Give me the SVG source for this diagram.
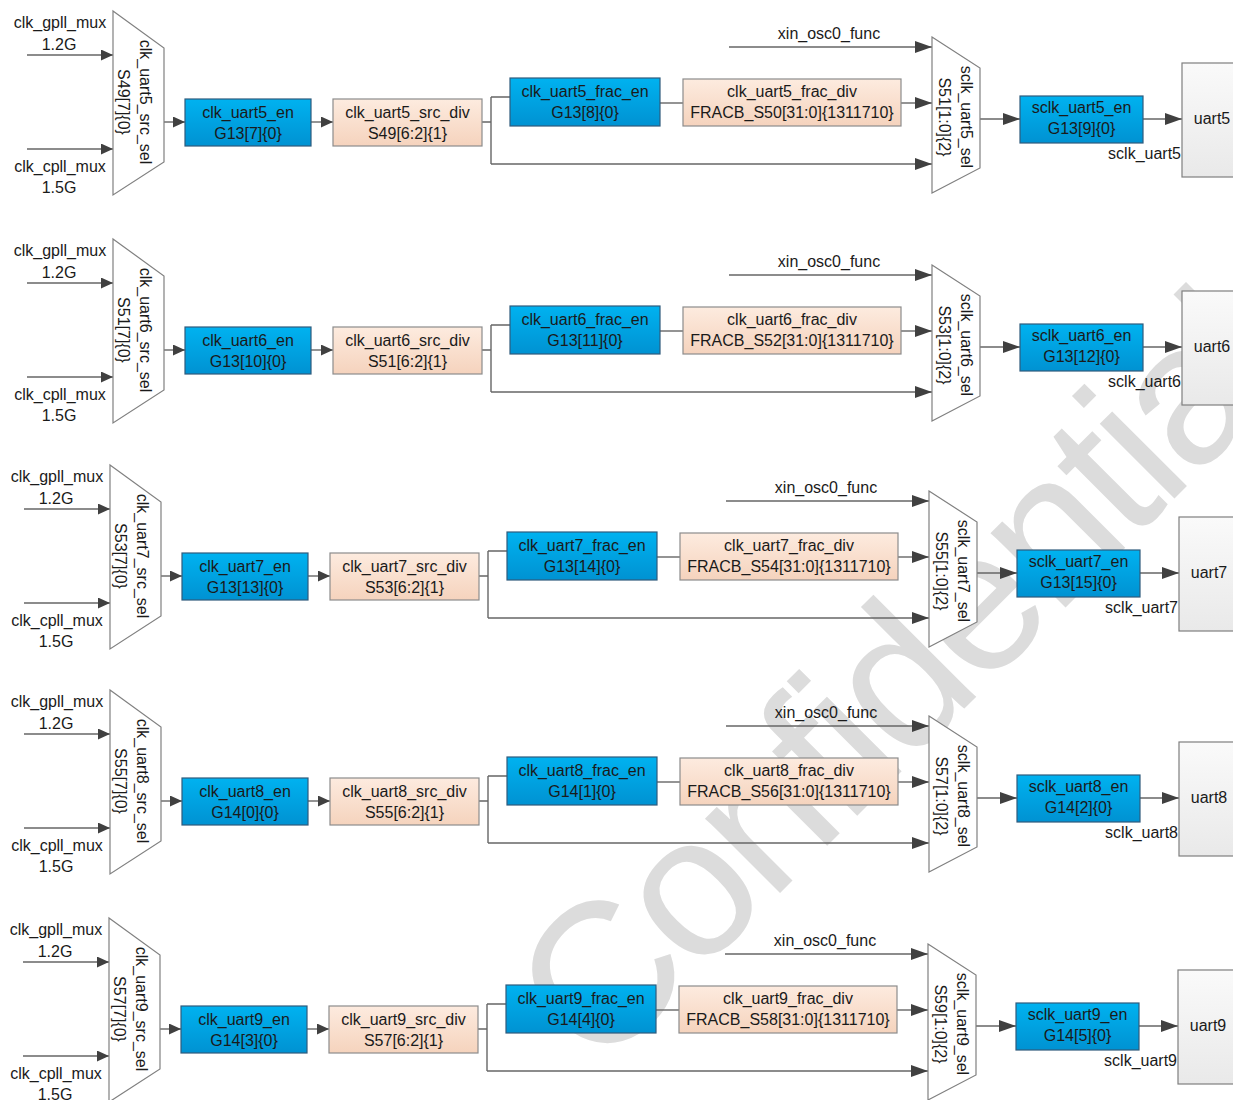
<svg xmlns="http://www.w3.org/2000/svg" width="1233" height="1100" viewBox="0 0 1233 1100">
<style>
.t{font-family:"Liberation Sans",Arial,sans-serif;font-size:16px;fill:#1a1a1a;text-anchor:middle}
.te{text-anchor:end}
.ln{stroke:#666;stroke-width:1.4;fill:none}
.a1{marker-end:url(#ah1)}
.a2{marker-end:url(#ah2)}
.mux{fill:#fff;stroke:#808080;stroke-width:1.2}
.blue{fill:url(#gb);stroke:#2f5b7c;stroke-width:1.2}
.peach{fill:url(#gp);stroke:#8c8c8c;stroke-width:1.2}
.dev{fill:url(#gd);stroke:#7f7f7f;stroke-width:1.2}
.wm{font-family:"Liberation Sans",Arial,sans-serif;font-size:200px;fill:#dcdcdc}
</style>
<defs>
<linearGradient id="gb" x1="0" y1="0" x2="0" y2="1"><stop offset="0" stop-color="#00b2f0"/><stop offset="1" stop-color="#0092d2"/></linearGradient>
<linearGradient id="gp" x1="0" y1="0" x2="0" y2="1"><stop offset="0" stop-color="#fdebdf"/><stop offset="1" stop-color="#f5d3bd"/></linearGradient>
<linearGradient id="gd" x1="0" y1="0" x2="0" y2="1"><stop offset="0" stop-color="#fafafa"/><stop offset="1" stop-color="#e9e9e9"/></linearGradient>
<marker id="ah1" markerUnits="userSpaceOnUse" markerWidth="13" markerHeight="11" refX="12" refY="5.5" orient="auto"><path d="M0,0 L12,5.5 L0,11 z" fill="#404040"/></marker>
<marker id="ah2" markerUnits="userSpaceOnUse" markerWidth="18" markerHeight="12" refX="17" refY="6" orient="auto"><path d="M0,0 L17,6 L0,12 z" fill="#404040"/></marker>
</defs>
<rect width="1233" height="1100" fill="#fff"/>
<text class="wm" transform="translate(598,1075) rotate(-45)" textLength="990" lengthAdjust="spacing">Confidential</text>

<!-- ROW uart5 -->
<g id="row-uart5">
<g id="conn-uart5">
<path class="ln a1" d="M27,55H113"/><path class="ln a1" d="M27,149H113"/>
<path class="ln a1" d="M164,122H185"/><path class="ln a1" d="M311,122H333"/>
<path class="ln" d="M482,122H491M491,97V164M491,97H510"/>
<path class="ln" d="M660,103H683"/>
<path class="ln a2" d="M901,103H932"/><path class="ln a2" d="M491,164H932"/><path class="ln a2" d="M729,47H932"/>
<path class="ln a2" d="M980,119H1020"/><path class="ln a2" d="M1143,119H1182"/>
<text class="t" x="60" y="27.5">clk_gpll_mux</text><text class="t" x="59" y="49.5">1.2G</text>
<text class="t" x="60" y="171.5">clk_cpll_mux</text><text class="t" x="59" y="192.5">1.5G</text>
<text class="t" x="829" y="38.5">xin_osc0_func</text>
<text class="t te" x="1181" y="158.5">sclk_uart5</text>
</g>
<g id="clk_uart5_src_sel"><polygon class="mux" points="113,11 164,48 164,162 113,195"/><text class="t" transform="translate(145,102) rotate(90)" y="5.5">clk_uart5_src_sel</text><text class="t" transform="translate(123,102) rotate(90)" y="5.5">S49[7]{0}</text></g>
<g id="clk_uart5_en"><rect class="blue" x="185" y="99" width="126" height="47"/><text class="t" x="248" y="117.5">clk_uart5_en</text><text class="t" x="248" y="138.5">G13[7]{0}</text></g>
<g id="clk_uart5_src_div"><rect class="peach" x="333" y="99" width="149" height="47"/><text class="t" x="407.5" y="117.5">clk_uart5_src_div</text><text class="t" x="407.5" y="138.5">S49[6:2]{1}</text></g>
<g id="clk_uart5_frac_en"><rect class="blue" x="510" y="78" width="150" height="48"/><text class="t" x="585" y="97">clk_uart5_frac_en</text><text class="t" x="585" y="118">G13[8]{0}</text></g>
<g id="clk_uart5_frac_div"><rect class="peach" x="683" y="79" width="218" height="47"/><text class="t" x="792" y="97">clk_uart5_frac_div</text><text class="t" x="792" y="118">FRACB_S50[31:0]{1311710}</text></g>
<g id="sclk_uart5_sel"><polygon class="mux" points="932,37 980,68 980,168 932,193"/><text class="t" transform="translate(966,117) rotate(90)" y="5.5">sclk_uart5_sel</text><text class="t" transform="translate(944,117) rotate(90)" y="5.5">S51[1:0]{2}</text></g>
<g id="sclk_uart5_en"><rect class="blue" x="1020" y="96" width="123" height="47"/><text class="t" x="1081.5" y="112.5">sclk_uart5_en</text><text class="t" x="1081.5" y="133.5">G13[9]{0}</text></g>
<g id="uart5"><rect class="dev" x="1182" y="63" width="70" height="114"/><text class="t" x="1212" y="124">uart5</text></g>
</g>

<!-- ROW uart6 -->
<g id="row-uart6" transform="translate(0,228)">
<g id="conn-uart6">
<path class="ln a1" d="M27,55H113"/><path class="ln a1" d="M27,149H113"/>
<path class="ln a1" d="M164,122H185"/><path class="ln a1" d="M311,122H333"/>
<path class="ln" d="M482,122H491M491,97V164M491,97H510"/>
<path class="ln" d="M660,103H683"/>
<path class="ln a2" d="M901,103H932"/><path class="ln a2" d="M491,164H932"/><path class="ln a2" d="M729,47H932"/>
<path class="ln a2" d="M980,119H1020"/><path class="ln a2" d="M1143,119H1182"/>
<text class="t" x="60" y="27.5">clk_gpll_mux</text><text class="t" x="59" y="49.5">1.2G</text>
<text class="t" x="60" y="171.5">clk_cpll_mux</text><text class="t" x="59" y="192.5">1.5G</text>
<text class="t" x="829" y="38.5">xin_osc0_func</text>
<text class="t te" x="1181" y="158.5">sclk_uart6</text>
</g>
<g id="clk_uart6_src_sel"><polygon class="mux" points="113,11 164,48 164,162 113,195"/><text class="t" transform="translate(145,102) rotate(90)" y="5.5">clk_uart6_src_sel</text><text class="t" transform="translate(123,102) rotate(90)" y="5.5">S51[7]{0}</text></g>
<g id="clk_uart6_en"><rect class="blue" x="185" y="99" width="126" height="47"/><text class="t" x="248" y="117.5">clk_uart6_en</text><text class="t" x="248" y="138.5">G13[10]{0}</text></g>
<g id="clk_uart6_src_div"><rect class="peach" x="333" y="99" width="149" height="47"/><text class="t" x="407.5" y="117.5">clk_uart6_src_div</text><text class="t" x="407.5" y="138.5">S51[6:2]{1}</text></g>
<g id="clk_uart6_frac_en"><rect class="blue" x="510" y="78" width="150" height="48"/><text class="t" x="585" y="97">clk_uart6_frac_en</text><text class="t" x="585" y="118">G13[11]{0}</text></g>
<g id="clk_uart6_frac_div"><rect class="peach" x="683" y="79" width="218" height="47"/><text class="t" x="792" y="97">clk_uart6_frac_div</text><text class="t" x="792" y="118">FRACB_S52[31:0]{1311710}</text></g>
<g id="sclk_uart6_sel"><polygon class="mux" points="932,37 980,68 980,168 932,193"/><text class="t" transform="translate(966,117) rotate(90)" y="5.5">sclk_uart6_sel</text><text class="t" transform="translate(944,117) rotate(90)" y="5.5">S53[1:0]{2}</text></g>
<g id="sclk_uart6_en"><rect class="blue" x="1020" y="96" width="123" height="47"/><text class="t" x="1081.5" y="112.5">sclk_uart6_en</text><text class="t" x="1081.5" y="133.5">G13[12]{0}</text></g>
<g id="uart6"><rect class="dev" x="1182" y="63" width="70" height="114"/><text class="t" x="1212" y="124">uart6</text></g>
</g>

<!-- ROW uart7 -->
<g id="row-uart7" transform="translate(-3,454)">
<g id="conn-uart7">
<path class="ln a1" d="M27,55H113"/><path class="ln a1" d="M27,149H113"/>
<path class="ln a1" d="M164,122H185"/><path class="ln a1" d="M311,122H333"/>
<path class="ln" d="M482,122H491M491,97V164M491,97H510"/>
<path class="ln" d="M660,103H683"/>
<path class="ln a2" d="M901,103H932"/><path class="ln a2" d="M491,164H932"/><path class="ln a2" d="M729,47H932"/>
<path class="ln a2" d="M980,119H1020"/><path class="ln a2" d="M1143,119H1182"/>
<text class="t" x="60" y="27.5">clk_gpll_mux</text><text class="t" x="59" y="49.5">1.2G</text>
<text class="t" x="60" y="171.5">clk_cpll_mux</text><text class="t" x="59" y="192.5">1.5G</text>
<text class="t" x="829" y="38.5">xin_osc0_func</text>
<text class="t te" x="1181" y="158.5">sclk_uart7</text>
</g>
<g id="clk_uart7_src_sel"><polygon class="mux" points="113,11 164,48 164,162 113,195"/><text class="t" transform="translate(145,102) rotate(90)" y="5.5">clk_uart7_src_sel</text><text class="t" transform="translate(123,102) rotate(90)" y="5.5">S53[7]{0}</text></g>
<g id="clk_uart7_en"><rect class="blue" x="185" y="99" width="126" height="47"/><text class="t" x="248" y="117.5">clk_uart7_en</text><text class="t" x="248" y="138.5">G13[13]{0}</text></g>
<g id="clk_uart7_src_div"><rect class="peach" x="333" y="99" width="149" height="47"/><text class="t" x="407.5" y="117.5">clk_uart7_src_div</text><text class="t" x="407.5" y="138.5">S53[6:2]{1}</text></g>
<g id="clk_uart7_frac_en"><rect class="blue" x="510" y="78" width="150" height="48"/><text class="t" x="585" y="97">clk_uart7_frac_en</text><text class="t" x="585" y="118">G13[14]{0}</text></g>
<g id="clk_uart7_frac_div"><rect class="peach" x="683" y="79" width="218" height="47"/><text class="t" x="792" y="97">clk_uart7_frac_div</text><text class="t" x="792" y="118">FRACB_S54[31:0]{1311710}</text></g>
<g id="sclk_uart7_sel"><polygon class="mux" points="932,37 980,68 980,168 932,193"/><text class="t" transform="translate(966,117) rotate(90)" y="5.5">sclk_uart7_sel</text><text class="t" transform="translate(944,117) rotate(90)" y="5.5">S55[1:0]{2}</text></g>
<g id="sclk_uart7_en"><rect class="blue" x="1020" y="96" width="123" height="47"/><text class="t" x="1081.5" y="112.5">sclk_uart7_en</text><text class="t" x="1081.5" y="133.5">G13[15]{0}</text></g>
<g id="uart7"><rect class="dev" x="1182" y="63" width="70" height="114"/><text class="t" x="1212" y="124">uart7</text></g>
</g>

<!-- ROW uart8 -->
<g id="row-uart8" transform="translate(-3,679)">
<g id="conn-uart8">
<path class="ln a1" d="M27,55H113"/><path class="ln a1" d="M27,149H113"/>
<path class="ln a1" d="M164,122H185"/><path class="ln a1" d="M311,122H333"/>
<path class="ln" d="M482,122H491M491,97V164M491,97H510"/>
<path class="ln" d="M660,103H683"/>
<path class="ln a2" d="M901,103H932"/><path class="ln a2" d="M491,164H932"/><path class="ln a2" d="M729,47H932"/>
<path class="ln a2" d="M980,119H1020"/><path class="ln a2" d="M1143,119H1182"/>
<text class="t" x="60" y="27.5">clk_gpll_mux</text><text class="t" x="59" y="49.5">1.2G</text>
<text class="t" x="60" y="171.5">clk_cpll_mux</text><text class="t" x="59" y="192.5">1.5G</text>
<text class="t" x="829" y="38.5">xin_osc0_func</text>
<text class="t te" x="1181" y="158.5">sclk_uart8</text>
</g>
<g id="clk_uart8_src_sel"><polygon class="mux" points="113,11 164,48 164,162 113,195"/><text class="t" transform="translate(145,102) rotate(90)" y="5.5">clk_uart8_src_sel</text><text class="t" transform="translate(123,102) rotate(90)" y="5.5">S55[7]{0}</text></g>
<g id="clk_uart8_en"><rect class="blue" x="185" y="99" width="126" height="47"/><text class="t" x="248" y="117.5">clk_uart8_en</text><text class="t" x="248" y="138.5">G14[0]{0}</text></g>
<g id="clk_uart8_src_div"><rect class="peach" x="333" y="99" width="149" height="47"/><text class="t" x="407.5" y="117.5">clk_uart8_src_div</text><text class="t" x="407.5" y="138.5">S55[6:2]{1}</text></g>
<g id="clk_uart8_frac_en"><rect class="blue" x="510" y="78" width="150" height="48"/><text class="t" x="585" y="97">clk_uart8_frac_en</text><text class="t" x="585" y="118">G14[1]{0}</text></g>
<g id="clk_uart8_frac_div"><rect class="peach" x="683" y="79" width="218" height="47"/><text class="t" x="792" y="97">clk_uart8_frac_div</text><text class="t" x="792" y="118">FRACB_S56[31:0]{1311710}</text></g>
<g id="sclk_uart8_sel"><polygon class="mux" points="932,37 980,68 980,168 932,193"/><text class="t" transform="translate(966,117) rotate(90)" y="5.5">sclk_uart8_sel</text><text class="t" transform="translate(944,117) rotate(90)" y="5.5">S57[1:0]{2}</text></g>
<g id="sclk_uart8_en"><rect class="blue" x="1020" y="96" width="123" height="47"/><text class="t" x="1081.5" y="112.5">sclk_uart8_en</text><text class="t" x="1081.5" y="133.5">G14[2]{0}</text></g>
<g id="uart8"><rect class="dev" x="1182" y="63" width="70" height="114"/><text class="t" x="1212" y="124">uart8</text></g>
</g>

<!-- ROW uart9 -->
<g id="row-uart9" transform="translate(-4,907)">
<g id="conn-uart9">
<path class="ln a1" d="M27,55H113"/><path class="ln a1" d="M27,149H113"/>
<path class="ln a1" d="M164,122H185"/><path class="ln a1" d="M311,122H333"/>
<path class="ln" d="M482,122H491M491,97V164M491,97H510"/>
<path class="ln" d="M660,103H683"/>
<path class="ln a2" d="M901,103H932"/><path class="ln a2" d="M491,164H932"/><path class="ln a2" d="M729,47H932"/>
<path class="ln a2" d="M980,119H1020"/><path class="ln a2" d="M1143,119H1182"/>
<text class="t" x="60" y="27.5">clk_gpll_mux</text><text class="t" x="59" y="49.5">1.2G</text>
<text class="t" x="60" y="171.5">clk_cpll_mux</text><text class="t" x="59" y="192.5">1.5G</text>
<text class="t" x="829" y="38.5">xin_osc0_func</text>
<text class="t te" x="1181" y="158.5">sclk_uart9</text>
</g>
<g id="clk_uart9_src_sel"><polygon class="mux" points="113,11 164,48 164,162 113,195"/><text class="t" transform="translate(145,102) rotate(90)" y="5.5">clk_uart9_src_sel</text><text class="t" transform="translate(123,102) rotate(90)" y="5.5">S57[7]{0}</text></g>
<g id="clk_uart9_en"><rect class="blue" x="185" y="99" width="126" height="47"/><text class="t" x="248" y="117.5">clk_uart9_en</text><text class="t" x="248" y="138.5">G14[3]{0}</text></g>
<g id="clk_uart9_src_div"><rect class="peach" x="333" y="99" width="149" height="47"/><text class="t" x="407.5" y="117.5">clk_uart9_src_div</text><text class="t" x="407.5" y="138.5">S57[6:2]{1}</text></g>
<g id="clk_uart9_frac_en"><rect class="blue" x="510" y="78" width="150" height="48"/><text class="t" x="585" y="97">clk_uart9_frac_en</text><text class="t" x="585" y="118">G14[4]{0}</text></g>
<g id="clk_uart9_frac_div"><rect class="peach" x="683" y="79" width="218" height="47"/><text class="t" x="792" y="97">clk_uart9_frac_div</text><text class="t" x="792" y="118">FRACB_S58[31:0]{1311710}</text></g>
<g id="sclk_uart9_sel"><polygon class="mux" points="932,37 980,68 980,168 932,193"/><text class="t" transform="translate(966,117) rotate(90)" y="5.5">sclk_uart9_sel</text><text class="t" transform="translate(944,117) rotate(90)" y="5.5">S59[1:0]{2}</text></g>
<g id="sclk_uart9_en"><rect class="blue" x="1020" y="96" width="123" height="47"/><text class="t" x="1081.5" y="112.5">sclk_uart9_en</text><text class="t" x="1081.5" y="133.5">G14[5]{0}</text></g>
<g id="uart9"><rect class="dev" x="1182" y="63" width="70" height="114"/><text class="t" x="1212" y="124">uart9</text></g>
</g>
</svg>
